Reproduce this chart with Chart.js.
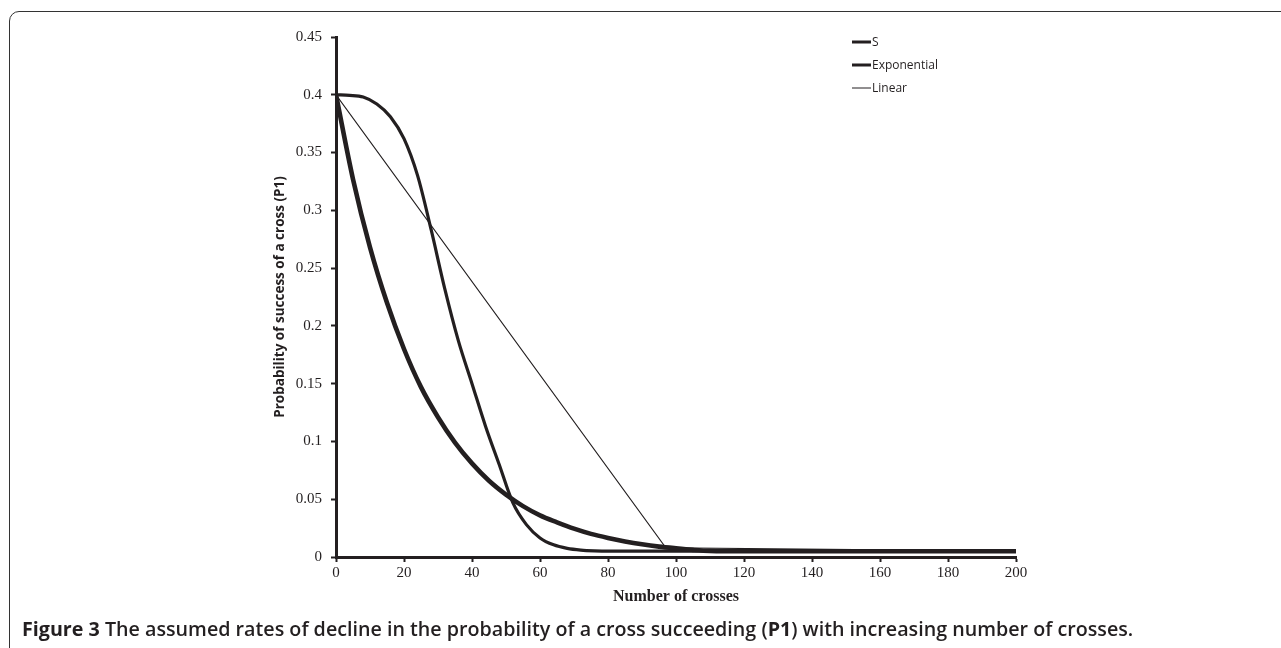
<!DOCTYPE html>
<html>
<head>
<meta charset="utf-8">
<script src="https://cdn.jsdelivr.net/npm/chart.js@4.4.1/dist/chart.umd.min.js"></script>
<style>
  html, body { margin:0; padding:0; background:#fff; width:1281px; height:648px; overflow:hidden; }
  #frame { position:absolute; left:9px; top:11px; width:1400px; height:800px; border:1.5px solid #333; border-top-left-radius:10px; box-sizing:border-box; }
  #wrap { position:absolute; left:0; top:0; width:1281px; height:648px; }
  #caption { position:absolute; left:22px; top:617px; line-height:24px; font-family:"Open Sans", sans-serif; font-size:19.7px; font-weight:600; color:#231f20; white-space:nowrap; }
  #caption b { font-weight:700; }
</style>
</head>
<body>
<div id="frame"></div>
<div id="wrap"><canvas id="c" width="1281" height="648"></canvas></div>
<div id="caption"><b>Figure 3</b> The assumed rates of decline in the probability of a cross succeeding (<b>P1</b>) with increasing number of crosses.</div>
<script>
// ---- Data ----
const xTickLabels = ['0','20','40','60','80','100','120','140','160','180','200'];
const yTickLabels = ['0','0.05','0.1','0.15','0.2','0.25','0.3','0.35','0.4','0.45'];

const sX = [0, 4, 8, 12, 16, 20, 24, 28, 32, 36, 40, 44, 48, 52, 56, 60, 64, 68, 72, 76, 80, 120, 200];
const sY = [0.4, 0.3995, 0.398, 0.392, 0.381, 0.362, 0.330, 0.283, 0.232, 0.187, 0.150, 0.113, 0.080, 0.047, 0.028, 0.0165, 0.0105, 0.0075, 0.006, 0.0053, 0.005, 0.005, 0.005];

const expX = [0, 5, 10, 15, 20, 25, 30, 35, 40, 45, 50, 55, 60, 65, 70, 75, 80, 85, 90, 95, 100, 105, 110, 120, 200];
const expY = [0.4, 0.327, 0.268, 0.22, 0.18, 0.147, 0.121, 0.099, 0.081, 0.066, 0.054, 0.044, 0.036, 0.030, 0.0245, 0.020, 0.0165, 0.0135, 0.011, 0.009, 0.0075, 0.0062, 0.0053, 0.005, 0.005];

const linX = [0, 97, 200];
const linY = [0.4, 0.008, 0.005];

const seriesLabels = ['S', 'Exponential', 'Linear'];

function pts(xs, ys) { return xs.map((x, i) => ({ x: x, y: ys[i] })); }

const INK = '#231f20';

const legendPlugin = {
  id: 'lineLegend',
  afterDraw(chart) {
    const ctx = chart.ctx;
    const x0 = 852, x1 = 871, ys = [42, 65, 88];
    ctx.save();
    ctx.font = '12px "Open Sans", sans-serif';
    ctx.textBaseline = 'middle';
    ctx.fillStyle = INK;
    chart.data.datasets.forEach((ds, i) => {
      ctx.beginPath();
      ctx.strokeStyle = ds.borderColor;
      ctx.lineWidth = i === 2 ? 1 : 3;
      ctx.moveTo(x0, ys[i]);
      ctx.lineTo(x1, ys[i]);
      ctx.stroke();
      ctx.fillText(ds.label, x1 + 1, ys[i] + 0.5);
    });
    ctx.restore();
  }
};

new Chart(document.getElementById('c'), {
  type: 'line',
  data: {
    datasets: [
      { label: seriesLabels[0], data: pts(sX, sY), borderColor: INK, borderWidth: 3.2, pointRadius: 0, cubicInterpolationMode: 'monotone', fill: false },
      { label: seriesLabels[1], data: pts(expX, expY), borderColor: INK, borderWidth: 4.6, pointRadius: 0, cubicInterpolationMode: 'monotone', fill: false },
      { label: seriesLabels[2], data: pts(linX, linY), borderColor: INK, borderWidth: 1.2, pointRadius: 0, tension: 0, fill: false }
    ]
  },
  options: {
    responsive: false,
    animation: false,
    layout: { padding: { left: 266, right: 265, top: 37, bottom: 38 } },
    plugins: { legend: { display: false }, tooltip: { enabled: false } },
    scales: {
      x: {
        type: 'linear', min: 0, max: 200,
        afterFit(scale) { scale.height = 53; scale.paddingLeft = 0; scale.paddingRight = 0; },
        grid: { display: true, drawOnChartArea: false, drawTicks: true, tickLength: 5, tickWidth: 2, color: INK },
        border: { display: true, width: 3, color: INK },
        ticks: { stepSize: 20, padding: 2, color: INK, font: { family: '"Liberation Serif", serif', size: 15 },
                 callback: (v, i) => xTickLabels[i] },
        title: { display: true, text: 'Number of crosses', color: INK, padding: { top: 0, bottom: 4 },
                 font: { family: '"Liberation Serif", serif', size: 16, weight: 'bold' } }
      },
      y: {
        type: 'linear', min: 0, max: 0.45,
        afterFit(scale) { scale.width = 70; scale.paddingTop = 0; scale.paddingBottom = 0; },
        grid: { display: true, drawOnChartArea: false, drawTicks: true, tickLength: 5, tickWidth: 2, color: INK },
        border: { display: true, width: 3, color: INK },
        ticks: { stepSize: 0.05, padding: 9, color: INK, font: { family: '"Liberation Serif", serif', size: 15 },
                 callback: (v, i) => yTickLabels[i] },
        title: { display: true, text: 'Probability of success of a cross (P1)', color: INK, padding: { top: 6, bottom: 0 },
                 font: { family: '"Open Sans", sans-serif', size: 13.5, weight: 'bold' } }
      }
    }
  },
  plugins: [legendPlugin]
});
</script>
</body>
</html>
